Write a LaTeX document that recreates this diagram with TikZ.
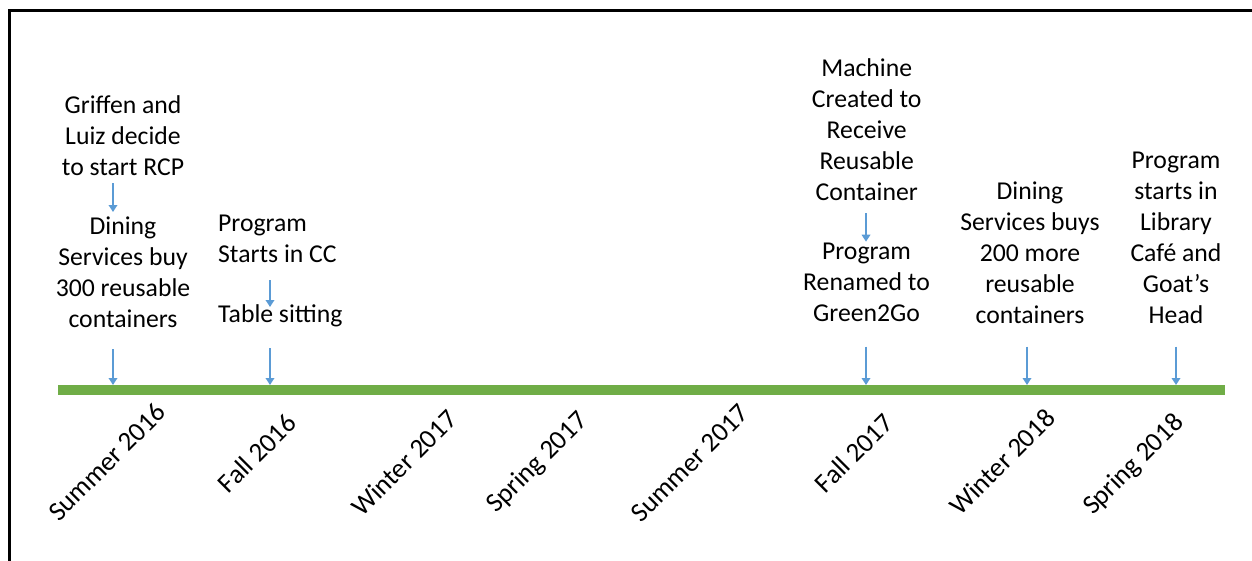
\documentclass[tikz,border=0pt]{standalone}
\usepackage{fontspec}
\setmainfont{Carlito}
\usetikzlibrary{arrows.meta,calc}
\definecolor{bargreen}{HTML}{70AD47}
\definecolor{arrowblue}{HTML}{5B9BD5}
\begin{document}
\begin{tikzpicture}[x=1pt,y=-1pt,
  txt/.style={font=\fontsize{25.7}{31}\selectfont, align=center, inner sep=0pt, anchor=base},
  txtl/.style={font=\fontsize{25.7}{31}\selectfont, align=left, inner sep=0pt, anchor=base west},
  season/.style={font=\fontsize{27}{32}\selectfont, rotate=45, inner sep=0pt, anchor=center},
  arr/.style={draw=arrowblue, line width=2pt, -{Triangle[width=8.5pt,length=7pt]}},
  frameline/.style={line width=2.6pt, draw=black},
  bar/.style={fill=bargreen, inner sep=0pt, minimum width=1167pt, minimum height=10pt, anchor=north west}]
\useasboundingbox (0,0) rectangle (1252,560);
% frame (top and left edges)
\draw[frameline] (9.7,562) -- (9.7,10.3) -- (1254,10.3);
% timeline bar
\node[bar] (bar) at (58,385) {};
\coordinate (t1) at (113,385);
\coordinate (t2) at (270,385);
\coordinate (t6) at (866,385);
\coordinate (t7) at (1027,385);
\coordinate (t8) at (1176,385);
% event texts (anchored at the baseline of the last line)
\node[txt] (g1) at (123,175) {Griffen and\\Luiz decide\\to start RCP};
\node[txt] (d1) at (123,327) {Dining\\Services buy\\300 reusable\\containers};
\node[txtl] (p2) at (218,262) {Program\\Starts in CC};
\node[txtl] (ts2) at (218,322) {Table sitting};
\node[txt] (m6) at (866.7,200) {Machine\\Created to\\Receive\\Reusable\\Container};
\node[txt] (p6) at (866.5,321.7) {Program\\Renamed to\\Green2Go};
\node[txt] (d7) at (1030,323.3) {Dining\\Services buys\\200 more\\reusable\\containers};
\node[txt] (p8) at (1176,323.3) {Program\\starts in\\Library\\Café and\\Goat’s\\Head};
% arrows between texts
\draw[arr] ($(g1.base -| t1)+(0,8)$) -- ($(d1.base -| t1)+(0,-115)$);
\draw[arr] ($(p2.base -| t2)+(0,18)$) -- ($(ts2.base -| t2)+(0,-15)$);
\draw[arr] ($(m6.base -| t6)+(0,13)$) -- ($(p6.base -| t6)+(0,-80)$);
% arrows to the timeline
\draw[arr] ($(d1.base -| t1)+(0,22)$) -- (t1);
\draw[arr] ($(ts2.base -| t2)+(0,26)$) -- (t2);
\draw[arr] ($(p6.base -| t6)+(0,25)$) -- (t6);
\draw[arr] ($(d7.base -| t7)+(0,23.4)$) -- (t7);
\draw[arr] ($(p8.base -| t8)+(0,23.4)$) -- (t8);
% season labels
\node[season] (s1) at (107,462) {Summer 2016};
\node[season] (s2) at (257,453) {Fall 2016};
\node[season] (s3) at (404,463) {Winter 2017};
\node[season] (s4) at (538,463) {Spring 2017};
\node[season] (s5) at (690,463) {Summer 2017};
\node[season] (s6) at (854,453) {Fall 2017};
\node[season] (s7) at (1002,462) {Winter 2018};
\node[season] (s8) at (1134,465) {Spring 2018};
\end{tikzpicture}
\end{document}
